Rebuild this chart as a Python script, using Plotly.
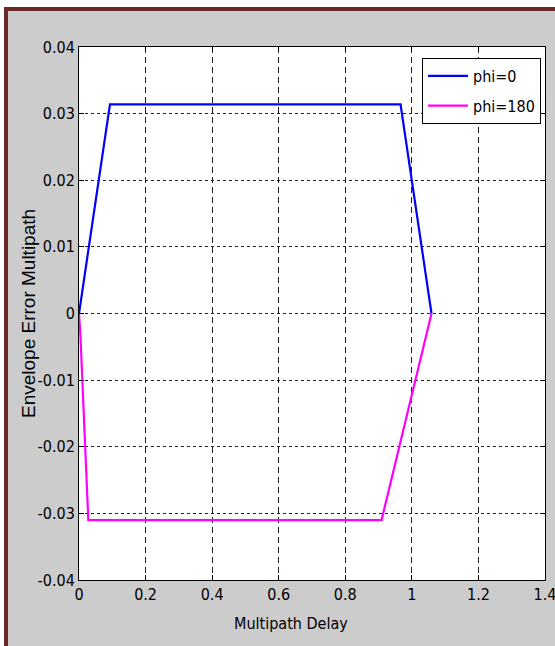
import plotly.graph_objects as go

# Data
phi0_x = [0, 0.093, 0.966, 1.059]
phi0_y = [0, 0.0314, 0.0314, 0]
phi180_x = [0, 0.004, 0.028, 0.909, 1.059]
phi180_y = [0, -0.003, -0.031, -0.031, 0]

xtick_vals = [0, 0.2, 0.4, 0.6, 0.8, 1.0, 1.2, 1.4]
xtick_text = ["0", "0.2", "0.4", "0.6", "0.8", "1", "1.2", "1.4"]
ytick_vals = [0.04, 0.03, 0.02, 0.01, 0, -0.01, -0.02, -0.03, -0.04]
ytick_text = ["0.04", "0.03", "0.02", "0.01", "0", "-0.01", "-0.02", "-0.03", "-0.04"]

W, H = 555, 646
L, R, T, B = 79, 10, 47, 66
pw, ph = W - L - R, H - T - B

def xp(px):
    return (px - L) / pw

def yp(py):
    return (H - B - py) / ph

FONT = "Liberation Sans Narrow, Arial Narrow, DejaVu Sans Condensed, Liberation Sans, Arial, sans-serif"

fig = go.Figure()
fig.add_trace(go.Scatter(x=phi0_x, y=phi0_y, mode="lines", name="phi=0",
                         line=dict(color="#0000ff", width=2.2), legendgroup="a"))
fig.add_trace(go.Scatter(x=phi180_x, y=phi180_y, mode="lines", name="phi=180",
                         line=dict(color="#ff00ff", width=2.2), legendgroup="b"))

axis_common = dict(showline=True, linecolor="black", linewidth=1, mirror="ticks",
                   ticks="inside", ticklen=5, tickcolor="black", zeroline=False,
                   showgrid=True, gridcolor="#222222", gridwidth=1,
                   ticklabeloverflow="allow",
                   tickfont=dict(family=FONT, size=16, color="black"))

fig.update_xaxes(range=[0, 1.4], tickvals=xtick_vals, ticktext=xtick_text,
                 griddash="6px,4px", **axis_common)
fig.update_yaxes(range=[-0.04, 0.04], tickvals=ytick_vals, ticktext=ytick_text,
                 griddash="3px,3px", **axis_common)

shapes = [
    dict(type="rect", xref="paper", yref="paper", x0=xp(-20), x1=xp(W + 20), y0=yp(7), y1=yp(-20),
         fillcolor="white", line_width=0, layer="above"),
    dict(type="rect", xref="paper", yref="paper", x0=xp(-20), x1=xp(4), y0=yp(H + 20), y1=yp(-20),
         fillcolor="white", line_width=0, layer="above"),
    dict(type="rect", xref="paper", yref="paper", x0=xp(4), x1=xp(W + 20), y0=yp(11), y1=yp(7),
         fillcolor="#6b2828", line_width=0, layer="above"),
    dict(type="rect", xref="paper", yref="paper", x0=xp(4), x1=xp(8), y0=yp(H + 20), y1=yp(7),
         fillcolor="#6b2828", line_width=0, layer="above"),
]

annotations = [
    dict(text="Multipath Delay", xref="paper", yref="paper", x=xp(291), y=yp(623),
         xanchor="center", yanchor="middle", showarrow=False,
         font=dict(family=FONT, size=16, color="black")),
    dict(text="Envelope Error Multipath", xref="paper", yref="paper", x=xp(28), y=yp(314),
         xanchor="center", yanchor="middle", showarrow=False, textangle=-90,
         font=dict(family="Liberation Sans, Arial, sans-serif", size=19, color="black")),
]

fig.update_layout(
    width=W, height=H,
    margin=dict(l=L, r=R, t=T, b=B, pad=0, autoexpand=False),
    paper_bgcolor="#cccccc", plot_bgcolor="white",
    showlegend=True,
    legend=dict(x=xp(541), y=yp(58), xanchor="right", yanchor="top",
                bgcolor="white", bordercolor="black", borderwidth=1,
                font=dict(family=FONT, size=16, color="black"),
                tracegroupgap=6, itemwidth=40),
    shapes=shapes, annotations=annotations,
)

fig.write_html("out.html", config={"displayModeBar": False},
               post_script="document.body.style.margin='0';")
